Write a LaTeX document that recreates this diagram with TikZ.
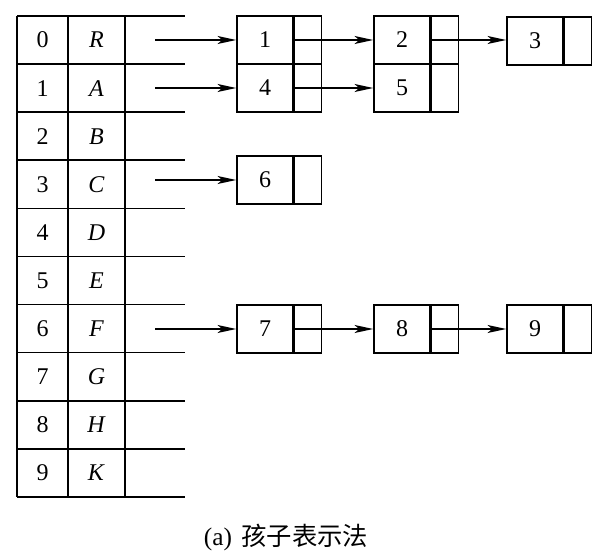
\documentclass[tikz,border=0pt]{standalone}
\usepackage{fontspec}
\setmainfont{Liberation Serif}
\newfontfamily\cjk{Noto Sans CJK SC}
\usetikzlibrary{arrows.meta}

\begin{document}
\begin{tikzpicture}[x=0.75pt,y=0.75pt,yscale=-1,xscale=1,
    line width=1.2pt,
    datcell/.style={draw,inner sep=0pt,minimum width=42pt,minimum height=36pt,font=\fontsize{18}{20}\selectfont},
    ptrcell/.style={draw,inner sep=0pt,minimum width=20.25pt,minimum height=36pt,anchor=west},
    tabtext/.style={inner sep=0.75pt,font=\fontsize{18}{20}\selectfont},
    link/.style={-{Stealth[length=14pt,width=6pt,inset=3.5pt]}}]
        \path[use as bounding box] (0,0) rectangle (608,556);

        %Table lines
        \foreach \i in {0,...,10}
            \draw (17,16+48.1*\i) -- (185,16+48.1*\i);
        \foreach \x in {17,68,125}
            \draw (\x,16) -- (\x,497);

        %Table texts
        \foreach \i/\c in {0/R,1/A,2/B,3/C,4/D,5/E,6/F,7/G,8/H,9/K} {
            \node [tabtext] (num\i) at (42.5,16+48.1*\i+24) {\i};
            \node [tabtext] (name\i) at (96.5,16+48.1*\i+24) {\textit{\c}};
        }

        %Arrow starts
        \coordinate (s0) at (155,40);
        \coordinate (s1) at (155,88);
        \coordinate (s3) at (155,180);
        \coordinate (s6) at (155,329);

        %Child nodes
        \node [datcell] (d1) at (265,40) {1};
        \node [ptrcell] (p1) at (d1.east) {};
        \node [datcell] (d4) at (265,88) {4};
        \node [ptrcell] (p4) at (d4.east) {};
        \node [datcell] (d2) at (402,40) {2};
        \node [ptrcell] (p2) at (d2.east) {};
        \node [datcell] (d5) at (402,88) {5};
        \node [ptrcell] (p5) at (d5.east) {};
        \node [datcell] (d3) at (535,41) {3};
        \node [ptrcell] (p3) at (d3.east) {};
        \node [datcell] (d6) at (265,180) {6};
        \node [ptrcell] (p6) at (d6.east) {};
        \node [datcell] (d7) at (265,329) {7};
        \node [ptrcell] (p7) at (d7.east) {};
        \node [datcell] (d8) at (402,329) {8};
        \node [ptrcell] (p8) at (d8.east) {};
        \node [datcell] (d9) at (535,329) {9};
        \node [ptrcell] (p9) at (d9.east) {};

        %Links
        \draw [link] (s0) -- (d1.west);
        \draw [link] (s1) -- (d4.west);
        \draw [link] (s3) -- (d6.west);
        \draw [link] (s6) -- (d7.west);
        \draw [link] (p1.west) -- (d2.west);
        \draw [link] (p4.west) -- (d5.west);
        \draw [link] (p2.west) -- (d2.west -| d3.west);
        \draw [link] (p7.west) -- (d8.west);
        \draw [link] (p8.west) -- (d9.west);

        % Text Node
        \node [inner sep=0.75pt,font=\fontsize{19}{21}\selectfont] (caption) at (286,537) {(a)\hspace{7pt}{\cjk 孩子表示法}};

    \end{tikzpicture}
\end{document}
